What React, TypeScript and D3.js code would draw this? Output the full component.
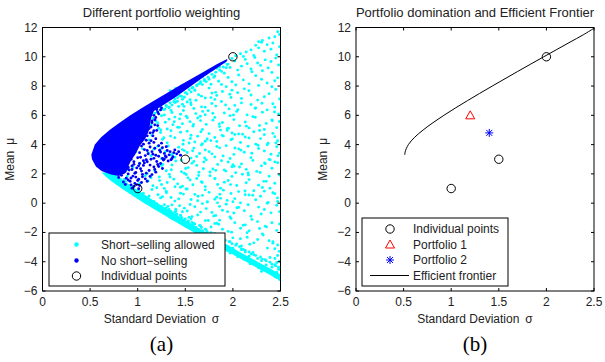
import React from 'react';
import * as d3 from 'd3';

// axis ticks (same for both panels)
const xTicks = [0, 0.5, 1, 1.5, 2, 2.5];
const yTicks = [-6, -4, -2, 0, 2, 4, 6, 8, 10, 12];

// the three assets (sigma, mu)
const individualPoints: [number, number][] = [[1, 1], [1.5, 3], [2, 10]];
const portfolio1: [number, number] = [1.2, 6];
const portfolio2: [number, number] = [1.4, 4.8];

// efficient frontier
const frontier: [number, number][] = [
  [0.513, 3.3], [0.516, 3.5], [0.55, 4.0], [0.616, 4.5], [0.705, 5.0], [0.809, 5.5],
  [0.923, 6.0], [1.044, 6.5], [1.17, 7.0], [1.299, 7.5], [1.431, 8.0], [1.565, 8.5],
  [1.699, 9.0], [1.835, 9.5], [1.972, 10.0], [2.11, 10.5], [2.248, 11.0], [2.387, 11.5], [2.5, 11.95],
];

// short-selling allowed cloud (cyan)
const cyanPoints: [number, number][] = [
  [2.31, 11.12], [2.44, 11.37], [2.47, 11.71], [2.38, 11.28], [2.49, 11.52], [2.27, 11.03],
  [2.08, 10.21], [2.36, 10.83], [2.19, 10.47], [2.46, 10.12], [2.03, 10.07], [2.27, 10.61], [2.42, 10.94], [2.14, 10.33],
  [2.33, 10.38], [2.49, 10.69], [2.22, 10.09], [2.3, 10.99], [2.4, 10.52], [2.11, 10.02], [2.24, 10.78],
  [1.79, 9.14], [2.13, 9.82], [1.94, 9.47], [2.37, 9.23], [2.02, 9.71], [1.86, 9.31], [2.26, 9.58], [2.45, 9.91],
  [1.74, 9.03], [2.09, 9.36], [2.31, 9.05], [1.99, 9.88], [2.19, 9.17], [2.48, 9.44], [1.91, 9.62], [2.4, 9.68],
  [2.05, 9.09], [2.23, 9.95], [1.83, 9.22], [2.15, 9.53], [2.34, 9.79], [1.97, 9.27], [2.29, 9.41],
  [1.52, 8.17], [1.68, 8.63], [2.11, 8.42], [1.47, 8.04], [1.91, 8.88], [2.36, 8.21], [1.59, 8.39], [1.77, 8.12],
  [2.24, 8.71], [2.47, 8.56], [1.63, 8.51], [1.85, 8.33], [2.03, 8.07], [1.72, 8.83], [2.41, 8.93], [1.95, 8.58],
  [1.56, 8.27], [2.17, 8.15], [1.81, 8.69], [2.3, 8.47], [1.66, 8.21], [2.06, 8.76], [1.5, 8.09], [1.99, 8.29],
  [2.44, 8.36], [1.75, 8.46], [2.2, 8.98], [1.62, 8.02], [1.88, 8.11], [2.27, 8.04], [1.7, 8.36],
  [1.26, 7.13], [1.41, 7.58], [1.83, 7.36], [1.34, 7.69], [2.12, 7.81], [1.55, 7.07], [1.47, 7.92], [1.98, 7.22],
  [1.31, 7.28], [2.38, 7.47], [1.64, 7.41], [1.39, 7.11], [1.75, 7.86], [2.26, 7.04], [1.51, 7.53], [1.89, 7.63],
  [1.44, 7.34], [2.45, 7.77], [1.36, 7.49], [1.6, 7.74], [2.05, 7.55], [1.29, 7.02], [1.71, 7.18], [2.19, 7.39],
  [1.49, 7.24], [1.93, 7.96], [1.4, 7.84], [2.33, 7.27], [1.57, 7.87], [1.81, 7.09], [2.49, 7.12], [1.45, 7.66],
  [1.67, 7.31], [2.09, 7.15], [1.33, 7.38], [1.53, 7.97], [1.99, 7.72], [2.41, 7.95], [1.38, 7.6], [1.78, 7.52],
  [1.18, 6.14], [1.33, 6.52], [1.74, 6.31], [1.22, 6.83], [2.02, 6.68], [1.45, 6.07], [1.27, 6.39], [1.88, 6.94],
  [1.56, 6.72], [2.31, 6.21], [1.39, 6.88], [1.21, 6.26], [1.67, 6.58], [2.15, 6.03], [1.3, 6.67], [1.96, 6.44],
  [1.48, 6.33], [2.42, 6.79], [1.25, 6.97], [1.61, 6.12], [1.82, 6.63], [2.24, 6.5], [1.36, 6.19], [1.52, 6.91],
  [2.09, 6.85], [1.17, 6.45], [1.71, 6.04], [2.36, 6.37], [1.43, 6.61], [1.91, 6.16], [2.48, 6.09], [1.28, 6.02],
  [1.59, 6.47], [2.19, 6.74], [1.35, 6.34], [1.78, 6.81], [1.24, 6.58], [2.04, 6.27], [1.47, 6.76], [2.44, 6.55],
  [1.16, 5.79], [1.37, 5.36], [1.79, 5.67], [1.22, 5.12], [2.07, 5.29], [1.51, 5.94], [1.29, 5.53], [1.94, 5.08],
  [1.63, 5.82], [2.35, 5.45], [1.42, 5.19], [1.19, 5.61], [1.72, 5.38], [2.21, 5.91], [1.33, 5.74], [1.86, 5.23],
  [1.55, 5.57], [2.46, 5.16], [1.25, 5.97], [1.68, 5.03], [2.01, 5.71], [2.28, 5.31], [1.39, 5.88], [1.58, 5.26],
  [2.13, 5.54], [1.14, 5.34], [1.81, 5.86], [2.41, 5.69], [1.47, 5.42], [1.97, 5.98], [2.49, 5.58], [1.31, 5.07],
  [1.66, 5.64], [2.17, 5.14], [1.21, 5.48], [1.89, 5.51], [2.33, 5.03], [1.44, 5.76],
  [1.24, 4.83], [1.31, 4.12], [1.39, 4.47], [1.48, 4.29], [1.52, 4.91], [1.56, 4.64], [1.68, 4.06], [1.73, 4.38],
  [1.75, 4.75], [1.83, 4.21], [1.9, 4.58], [1.94, 4.97], [1.98, 4.33], [2.02, 4.69], [2.08, 4.14], [2.13, 4.52],
  [2.22, 4.88], [2.24, 4.03], [2.29, 4.41], [2.42, 4.77], [2.47, 4.26], [1.15, 4.62], [1.35, 4.95], [1.6, 4.18],
  [1.81, 4.49], [2.06, 4.72], [2.37, 4.09], [1.26, 4.36], [1.45, 4.84], [1.63, 4.57], [1.71, 4.23], [1.87, 4.99],
  [2.17, 4.45], [2.33, 4.68], [1.12, 4.31], [1.54, 4.11], [1.99, 4.79], [2.44, 4.54],
  [1.14, 3.24], [1.47, 3.66], [1.78, 3.37], [1.21, 3.88], [2.06, 3.71], [1.56, 3.08], [1.29, 3.51], [1.93, 3.93],
  [1.62, 3.19], [2.33, 3.57], [1.43, 3.82], [1.11, 3.44], [1.71, 3.63], [2.19, 3.11], [1.35, 3.29], [1.86, 3.78],
  [1.52, 3.46], [2.46, 3.86], [1.25, 3.04], [1.67, 3.97], [2.01, 3.33], [2.27, 3.73], [1.39, 3.14], [1.59, 3.76],
  [2.12, 3.48], [1.17, 3.69], [1.81, 3.16], [2.4, 3.34], [1.49, 3.59], [1.97, 3.05], [2.49, 3.42], [1.32, 3.91],
  [1.65, 3.39], [2.16, 3.89], [1.75, 3.52], [2.36, 3.99], [1.05, 3.71], [0.98, 3.52],
  [1.25, 2.57], [1.3, 2.21], [1.4, 2.88], [1.49, 2.04], [1.53, 2.43], [1.57, 2.72], [1.69, 2.35], [1.72, 2.96],
  [1.76, 2.13], [1.84, 2.64], [1.91, 2.27], [1.95, 2.81], [1.99, 2.49], [2.03, 2.08], [2.09, 2.68], [2.14, 2.31],
  [2.21, 2.92], [2.25, 2.17], [2.3, 2.55], [2.41, 2.39], [2.47, 2.76], [1.1, 2.02], [1.36, 2.61], [1.59, 2.85],
  [1.82, 2.24], [2.07, 2.47], [2.38, 2.99], [1.02, 2.73], [1.46, 2.15], [1.62, 2.58], [1.79, 2.33], [1.88, 2.9],
  [2.16, 2.06], [2.34, 2.7], [0.95, 2.44], [1.18, 2.19], [2.0, 2.63], [2.44, 2.82], [0.9, 2.28],
  [1.14, 1.74], [1.47, 1.16], [1.76, 1.87], [0.82, 1.21], [2.04, 1.21], [1.55, 1.58], [1.28, 1.01], [1.91, 1.43],
  [1.62, 1.69], [2.31, 1.07], [1.42, 1.32], [0.89, 1.83], [1.71, 1.13], [2.17, 1.61], [1.34, 1.79], [1.84, 1.28],
  [1.51, 1.96], [2.44, 1.36], [1.23, 1.54], [1.67, 1.47], [1.99, 1.83], [2.27, 1.23], [1.38, 1.64], [1.58, 1.26],
  [2.1, 1.98], [1.16, 1.19], [1.81, 1.66], [2.38, 1.84], [1.45, 1.09], [1.95, 1.55], [2.49, 1.92], [1.31, 1.41],
  [1.64, 1.89], [2.14, 1.39], [1.2, 1.05], [1.87, 1.02], [2.35, 1.49], [1.08, 1.88], [0.78, 1.36], [0.86, 1.62],
  [1.02, 1.34], [1.11, 1.52], [0.95, 1.12], [1.25, 1.28],
  [1.24, 0.36], [1.3, 0.81], [1.39, 0.14], [1.48, 0.62], [1.52, 0.97], [1.56, 0.25], [1.68, 0.53], [1.73, 0.08],
  [1.75, 0.74], [1.83, 0.41], [1.9, 0.89], [1.94, 0.19], [1.98, 0.66], [2.02, 0.31], [2.08, 0.02], [2.13, 0.58],
  [2.22, 0.85], [2.24, 0.23], [2.29, 0.47], [2.42, 0.71], [2.47, 0.12], [1.15, 0.93], [1.35, 0.39], [1.6, 0.6],
  [1.81, 0.27], [2.06, 0.79], [2.37, 0.05], [1.26, 0.44], [1.45, 0.68], [1.63, 0.16], [1.71, 0.91], [1.87, 0.33],
  [2.17, 0.56], [2.33, 0.82], [1.12, 0.49], [0.99, 0.72], [2.0, 0.1], [2.44, 0.64], [1.05, 0.57], [0.92, 0.86],
  [1.33, -0.86], [1.49, -0.34], [1.78, -0.63], [1.36, -0.12], [2.06, -0.29], [1.57, -0.92], [1.29, -0.49], [1.93, -0.07],
  [1.63, -0.81], [2.33, -0.43], [1.44, -0.18], [1.27, -0.67], [1.72, -0.37], [2.19, -0.89], [1.35, -0.71], [1.86, -0.22],
  [1.52, -0.54], [2.46, -0.14], [1.34, -0.96], [1.68, -0.03], [2.01, -0.67], [2.27, -0.27], [1.39, -0.86], [1.6, -0.24],
  [2.12, -0.52], [1.4, -0.41], [1.82, -0.84], [2.4, -0.66], [1.47, -0.59], [1.97, -0.95], [2.49, -0.58], [1.55, -0.09],
  [1.66, -0.61], [2.16, -0.11], [1.31, -0.55], [1.89, -0.48], [2.36, -0.01], [1.18, -0.28],
  [1.39, -1.14], [1.61, -1.66], [1.83, -1.37], [1.68, -1.88], [2.08, -1.71], [1.56, -1.08], [1.48, -1.41], [1.95, -1.93],
  [1.71, -1.19], [2.34, -1.57], [1.64, -1.82], [1.44, -1.23], [1.77, -1.63], [2.2, -1.11], [1.53, -1.29], [1.89, -1.78],
  [1.58, -1.46], [2.46, -1.86], [1.36, -1.04], [1.73, -1.97], [2.02, -1.33], [2.28, -1.73], [1.47, -1.14], [1.66, -1.56],
  [2.13, -1.48], [1.51, -1.61], [1.86, -1.16], [2.41, -1.34], [1.54, -1.52], [1.98, -1.05], [2.49, -1.42], [1.62, -1.91],
  [1.81, -1.39], [2.17, -1.89],
  [1.64, -2.14], [1.82, -2.66], [2.0, -2.37], [1.9, -2.88], [2.22, -2.71], [1.74, -2.08], [1.7, -2.41], [2.09, -2.93],
  [1.87, -2.19], [2.38, -2.57], [1.85, -2.82], [1.67, -2.23], [1.96, -2.63], [2.31, -2.11], [1.76, -2.29], [2.04, -2.78],
  [1.79, -2.46], [2.47, -2.86], [1.61, -2.04], [1.95, -2.97], [2.15, -2.33], [2.42, -2.73], [1.69, -2.14], [1.88, -2.56],
  [2.26, -2.48], [1.78, -2.61],
  [1.91, -3.14], [2.05, -3.66], [2.21, -3.37], [2.16, -3.88], [2.39, -3.71], [2.0, -3.08], [1.97, -3.41], [2.3, -3.93],
  [2.09, -3.19], [2.47, -3.57], [2.11, -3.82], [1.94, -3.23], [2.17, -3.63], [2.44, -3.11], [2.02, -3.29], [2.26, -3.78],
  [2.06, -3.46], [2.49, -3.96],
  [2.18, -4.14], [2.3, -4.66], [2.41, -4.37], [2.44, -4.88], [2.48, -4.51], [2.24, -4.08], [2.27, -4.41], [2.35, -4.22],
  [2.46, -4.72], [2.39, -4.6], [2.46, -5.08], [2.49, -5.22], [2.44, -5.01],
];

// more cyan points spread through the middle of the cloud
const cyanExtraPoints: [number, number][] = [
  [1.285, 6.42], [1.437, 5.18], [1.612, 7.03], [1.768, 4.27], [1.923, 6.71], [2.084, 3.62], [2.236, 5.87], [2.392, 2.96],
  [1.345, 4.58], [1.503, 2.37], [1.657, 5.94], [1.812, 1.68], [1.968, 7.44], [2.127, 0.83], [2.281, 4.96], [2.437, 6.23],
  [1.246, 3.71], [1.392, 1.12], [1.558, 6.86], [1.703, 3.09], [1.857, 5.41], [2.013, 2.52], [2.168, 7.68], [2.325, 1.49],
  [2.474, 3.24], [1.318, -0.22], [1.476, 4.02], [1.634, 0.47], [1.789, 6.14], [1.944, -0.58], [2.102, 4.71], [2.259, -1.26],
  [2.413, 5.63], [1.227, 1.79], [1.384, 5.56], [1.539, -0.97], [1.695, 2.81], [1.851, -1.44], [2.006, 6.02], [2.163, 1.93],
  [2.318, -2.17], [2.468, 0.36], [1.263, 2.64], [1.418, 6.97], [1.577, 3.58], [1.732, 0.09], [1.887, 4.63], [2.043, -0.31],
  [2.198, 3.41], [2.353, -1.62], [1.302, 0.71], [1.458, 2.94], [1.614, -1.73], [1.769, 7.21], [1.926, 2.19], [2.079, -2.43],
  [2.234, 6.48], [2.389, 1.02], [1.365, 3.36], [1.521, 5.83], [1.676, 1.41], [1.831, 3.87], [1.987, -1.98], [2.142, 5.26],
  [2.297, -0.74], [2.452, 4.11], [1.243, 5.01], [1.401, -0.53], [1.553, 4.42], [1.709, 6.56], [1.864, 0.61], [2.021, 3.77],
  [2.177, -2.81], [2.333, 2.74], [2.486, -3.29], [1.332, 1.97], [1.487, 6.61], [1.643, 2.11], [1.798, -0.88], [1.953, 5.12],
  [2.109, -1.51], [2.264, 3.96], [2.421, -2.64], [1.274, 4.47], [1.431, 0.29], [1.586, 5.37], [1.741, -1.18], [1.897, 3.23],
  [2.052, 6.38], [2.208, 0.54], [2.363, -3.07], [1.353, 2.28], [1.508, 0.97], [1.664, 4.88], [1.819, 7.57], [1.975, 1.27],
  [2.131, -3.34], [2.286, 2.09], [2.441, -3.78], [1.213, 0.58], [1.371, 7.27], [1.528, 1.73], [1.683, 6.27], [1.838, 0.02],
  [1.994, 4.39], [2.149, -2.02], [2.305, 6.83], [2.459, -4.07],
];

// extra cyan points packed along both branches of the boundary
const cyanEdgePoints: [number, number][] = [
  [1.3, 6.6], [1.34, 6.85], [1.38, 6.95], [1.42, 7.2], [1.46, 7.3], [1.5, 7.55], [1.54, 7.75], [1.58, 7.9],
  [1.62, 8.05], [1.66, 8.3], [1.7, 8.45], [1.74, 8.6], [1.78, 8.8], [1.82, 8.95], [1.86, 9.1], [1.9, 9.3],
  [1.95, 9.5], [1.33, 6.55], [1.4, 6.9], [1.47, 7.1], [1.52, 7.45], [1.6, 7.7], [1.64, 8.15], [1.72, 8.3],
  [1.8, 8.6], [1.88, 9.0], [1.93, 9.25], [1.36, 6.7], [1.56, 7.6], [1.68, 8.1],
  [0.82, 1.6], [0.88, 1.32], [0.95, 0.97], [0.99, 0.78], [1.04, 0.63], [1.08, 0.41], [1.13, 0.18], [1.2, -0.04],
  [1.25, -0.22], [1.3, -0.33], [1.35, -0.57], [1.41, -0.74], [1.46, -0.97], [1.5, -1.08], [1.57, -1.32], [1.6, -1.43],
  [1.67, -1.66], [1.72, -1.83], [1.77, -2.02], [1.82, -2.18], [1.88, -2.42], [1.92, -2.53], [1.99, -2.77], [2.03, -2.88],
  [2.09, -3.12], [2.13, -3.23], [2.19, -3.47], [2.24, -3.58], [2.31, -3.82], [2.35, -3.93], [2.41, -4.17], [2.45, -4.28],
  [2.49, -4.52], [0.87, 1.49], [0.92, 1.17], [1.01, 0.88], [1.06, 0.66], [1.11, 0.33], [1.17, 0.12], [1.28, -0.11],
  [1.33, -0.43], [1.39, -0.62], [1.45, -0.83], [1.53, -1.22], [1.59, -1.38], [1.65, -1.53], [1.71, -1.77], [1.81, -2.07],
  [1.86, -2.28], [1.9, -2.47], [1.97, -2.63], [2.07, -2.98], [2.11, -3.17], [2.17, -3.33], [2.22, -3.52], [2.29, -3.68],
  [2.34, -3.87], [2.39, -4.03], [2.44, -4.22], [2.48, -4.38],
];

// dense cyan band along the lower branch (outline, sigma/mu)
const cyanBand: [number, number][] = [
  [0.62, 2.1], [0.667, 1.8], [0.724, 1.5], [0.831, 1.0], [0.947, 0.5], [1.069, 0], [1.196, -0.5], [1.326, -1],
  [1.458, -1.5], [1.592, -2], [1.727, -2.5], [1.863, -3], [2.0, -3.5], [2.138, -4], [2.276, -4.5],
  [2.414, -5], [2.498, -5.3], [2.5, -4.88], [2.4, -4.5], [2.26, -4.0], [2.12, -3.5], [1.98, -3.0],
  [1.85, -2.5], [1.72, -2.0], [1.59, -1.5], [1.46, -1.0], [1.34, -0.5], [1.21, 0.0], [1.09, 0.5],
  [0.97, 1.0], [0.86, 1.5], [0.8, 1.8], [0.74, 2.1],
];

// solid part of the no-short-selling region (outline, sigma/mu)
const blueRegion: [number, number][] = [
  [0.513, 3.3], [0.55, 4.0], [0.616, 4.5], [0.705, 5.0], [0.809, 5.5], [0.923, 6.0], [1.044, 6.5],
  [1.17, 7.0], [1.299, 7.5], [1.431, 8.0], [1.565, 8.5], [1.699, 9.0], [1.835, 9.5], [1.94, 9.85],
  [1.94, 9.72], [1.85, 9.3], [1.7, 8.65], [1.55, 7.95], [1.4, 7.25], [1.27, 6.7], [1.17, 6.3],
  [1.14, 5.8], [1.12, 5.0], [1.08, 4.4], [1.02, 3.9], [0.98, 3.4], [0.93, 2.9], [0.9, 2.5],
  [0.88, 2.1], [0.8, 1.85], [0.72, 1.95], [0.66, 2.1], [0.62, 2.2], [0.561, 2.5], [0.52, 3.0],
];

// scattered no-short-selling points outside the solid part
const bluePoints: [number, number][] = [
  [0.82, 3.0], [0.86, 3.2], [0.9, 3.5], [0.88, 2.8], [0.93, 3.0], [0.95, 3.3], [0.97, 3.7], [1.0, 3.1],
  [1.02, 3.45], [1.04, 3.9], [1.06, 2.9], [1.08, 3.25], [1.1, 3.6], [1.12, 4.1], [1.14, 3.0], [1.16, 3.35],
  [1.18, 3.75], [1.2, 2.85], [1.22, 3.2], [1.24, 3.5], [1.26, 3.05], [1.28, 3.4], [1.3, 3.15], [1.33, 3.3],
  [1.36, 3.05], [1.38, 3.45], [1.31, 3.6], [1.27, 2.95], [0.99, 4.2], [1.05, 4.5], [1.09, 4.3], [1.0, 3.95],
  [0.92, 3.85], [0.87, 3.65], [0.84, 2.6], [0.9, 2.45], [0.96, 2.65], [1.01, 2.55], [1.07, 2.75], [1.13, 2.6],
  [0.94, 2.3], [0.98, 2.1], [1.03, 2.35], [0.86, 2.2], [0.9, 2.0], [0.95, 1.85], [0.83, 1.9], [0.88, 1.7],
  [0.92, 1.5], [0.97, 1.35], [1.02, 1.2], [0.96, 1.15], [0.93, 1.25], [1.0, 1.55], [1.05, 1.8], [1.09, 2.05],
  [0.8, 1.75], [0.85, 1.45], [1.15, 1.95], [1.18, 2.3], [1.22, 2.5], [1.1, 1.5],
  [1.15, 5.5], [1.17, 6.0], [1.2, 6.4], [1.14, 5.2], [1.18, 5.7], [1.22, 6.1], [1.13, 4.8], [1.17, 4.95],
  [1.21, 5.3], [1.25, 6.5], [1.16, 4.6], [1.19, 4.4],
  [0.93, 1.72], [0.97, 2.04], [1.01, 1.63], [0.91, 2.27], [1.04, 2.19], [0.99, 2.41], [1.06, 2.58], [0.96, 2.83],
  [1.09, 2.97], [1.11, 3.38], [1.03, 3.14], [1.15, 3.52], [1.07, 3.66], [1.13, 3.84], [1.19, 3.27], [1.23, 3.61],
  [1.26, 3.79], [1.29, 3.23], [1.34, 3.52], [1.37, 3.17], [1.41, 3.37], [1.32, 2.88], [1.24, 2.71], [1.17, 2.47],
  [1.12, 2.23], [1.05, 1.97], [0.98, 1.78], [0.9, 1.58], [0.87, 1.28], [0.94, 1.02], [1.01, 0.98], [0.99, 1.27],
  [1.04, 1.41], [1.08, 1.66], [1.13, 1.83], [1.19, 2.12], [1.26, 2.37], [1.21, 2.64], [1.28, 3.02], [1.35, 2.97],
  [1.17, 3.06], [1.1, 2.83], [1.02, 2.71], [0.94, 2.54], [0.89, 2.36], [0.85, 2.07], [1.14, 4.27], [1.1, 4.6],
  [1.16, 4.82], [1.12, 5.1], [1.18, 5.35], [1.15, 5.62], [1.19, 5.85], [1.21, 6.22], [1.24, 6.37], [1.2, 4.97],
  [1.17, 4.15], [1.22, 3.93], [1.06, 4.03], [1.09, 4.79], [1.45, 3.28], [1.43, 3.51], [1.39, 3.64], [1.3, 3.86],
  [1.25, 4.1],
];

const FONT = 'Liberation Sans, Arial, sans-serif';
const MINUS = '\u2212';
const fmt = (v: number) => (v < 0 ? MINUS + Math.abs(v) : String(v));

const top = 27.5;
const bottom = 291;

function Frame({ x0, x1, title, caption, id, children }: any) {
  const x = d3.scaleLinear().domain([0, 2.5]).range([x0, x1]);
  const y = d3.scaleLinear().domain([-6, 12]).range([bottom, top]);
  const cx = (x0 + x1) / 2;
  return (
    <g>
      <defs>
        <clipPath id={id}>
          <rect x={x0} y={top} width={x1 - x0} height={bottom - top} />
        </clipPath>
      </defs>
      <g clipPath={`url(#${id})`}>{children(x, y)}</g>
      <rect x={x0} y={top} width={x1 - x0} height={bottom - top} fill="none" stroke="#000" strokeWidth={1} />
      {xTicks.map((t) => (
        <g key={'x' + t}>
          <line x1={x(t)} x2={x(t)} y1={bottom} y2={bottom - 3} stroke="#000" />
          <line x1={x(t)} x2={x(t)} y1={top} y2={top + 3} stroke="#000" />
          <text x={x(t)} y={306} textAnchor="middle" fontSize={12} fill="#222" fontFamily={FONT}>{fmt(t)}</text>
        </g>
      ))}
      {yTicks.map((t) => (
        <g key={'y' + t}>
          <line x1={x0} x2={x0 + 3} y1={y(t)} y2={y(t)} stroke="#000" />
          <line x1={x1} x2={x1 - 3} y1={y(t)} y2={y(t)} stroke="#000" />
          <text x={x0 - 5} y={y(t) + 4} textAnchor="end" fontSize={12} fill="#222" fontFamily={FONT}>{fmt(t)}</text>
        </g>
      ))}
      <text x={cx} y={16.5} textAnchor="middle" fontSize={13} fill="#222" fontFamily={FONT}>{title}</text>
      <text x={cx} y={323} textAnchor="middle" fontSize={12} fill="#222" fontFamily={FONT}>
        Standard Deviation{'\u2002'}σ
      </text>
      <text transform={`translate(${x0 - 29},${(top + bottom) / 2}) rotate(-90)`} textAnchor="middle" fontSize={12} fill="#222" fontFamily={FONT}>
        Mean{'\u2002'}μ
      </text>
      <text x={cx} y={351} textAnchor="middle" fontSize={21} fill="#000" fontFamily="Liberation Serif, serif">{caption}</text>
    </g>
  );
}

const Circle = ({ x, y }: any) => <circle cx={x} cy={y} r={4.2} fill="none" stroke="#000" strokeWidth={1} />;
const Triangle = ({ x, y }: any) => (
  <path d={`M${x},${y - 4.5}L${x + 4.5},${y + 3.5}L${x - 4.5},${y + 3.5}Z`} fill="none" stroke="#ff0000" strokeWidth={1} />
);
const Star = ({ x, y }: any) => (
  <g stroke="#0000ff" strokeWidth={1}>
    <line x1={x - 4} x2={x + 4} y1={y} y2={y} />
    <line x1={x} x2={x} y1={y - 4} y2={y + 4} />
    <line x1={x - 3} x2={x + 3} y1={y - 3} y2={y + 3} />
    <line x1={x - 3} x2={x + 3} y1={y + 3} y2={y - 3} />
  </g>
);

export default function App() {
  const allCyan = cyanPoints.concat(cyanExtraPoints, cyanEdgePoints);
  return (
    <svg width={605} height={362} style={{ position: 'absolute', left: 0, top: 0, background: '#fff' }}>
      <rect width={605} height={362} fill="#fff" />
      <Frame x0={42.5} x1={280.5} id="clipA" title="Different portfolio weighting" caption="(a)">
        {(x: any, y: any) => {
          const poly = d3.line<[number, number]>().x((d) => x(d[0])).y((d) => y(d[1]));
          return (
            <g>
              <path d={poly(cyanBand) + 'Z'} fill="#00ffff" />
              {allCyan.map((d, i) => (
                <circle key={'c' + i} cx={x(d[0])} cy={y(d[1])} r={1.45} fill="#00ffff" />
              ))}
              <path d={poly(blueRegion) + 'Z'} fill="#0000ff" />
              {bluePoints.map((d, i) => (
                <circle key={'b' + i} cx={x(d[0])} cy={y(d[1])} r={1.45} fill="#0000ff" />
              ))}
              {individualPoints.map((d, i) => (
                <Circle key={'i' + i} x={x(d[0])} y={y(d[1])} />
              ))}
            </g>
          );
        }}
      </Frame>
      <Frame x0={356} x1={594} id="clipB" title="Portfolio domination and Efficient Frontier" caption="(b)">
        {(x: any, y: any) => {
          const line = d3.line<[number, number]>().x((d) => x(d[0])).y((d) => y(d[1])).curve(d3.curveCatmullRom);
          return (
            <g>
              <path d={line(frontier) || ''} fill="none" stroke="#000" strokeWidth={1} />
              {individualPoints.map((d, i) => (
                <Circle key={'i' + i} x={x(d[0])} y={y(d[1])} />
              ))}
              <Triangle x={x(portfolio1[0])} y={y(portfolio1[1])} />
              <Star x={x(portfolio2[0])} y={y(portfolio2[1])} />
            </g>
          );
        }}
      </Frame>
      {/* legend (a) */}
      <g fontFamily={FONT} fontSize={12} fill="#222">
        <rect x={49} y={233} width={176} height={53} fill="#fff" stroke="#000" />
        <circle cx={76.5} cy={244.5} r={2.2} fill="#00ffff" />
        <text x={101} y={248.5}>Short{MINUS}selling allowed</text>
        <circle cx={76.5} cy={260.5} r={2.2} fill="#0000ff" />
        <text x={101} y={264.5}>No short{MINUS}selling</text>
        <Circle x={76.5} y={276} />
        <text x={101} y={280}>Individual points</text>
      </g>
      {/* legend (b) */}
      <g fontFamily={FONT} fontSize={12} fill="#222">
        <rect x={362} y={218} width={146} height={68} fill="#fff" stroke="#000" />
        <Circle x={390} y={229} />
        <text x={413} y={233}>Individual points</text>
        <Triangle x={390} y={244.5} />
        <text x={413} y={248.5}>Portfolio 1</text>
        <Star x={390} y={260} />
        <text x={413} y={264}>Portfolio 2</text>
        <line x1={370} x2={409} y1={275.5} y2={275.5} stroke="#000" />
        <text x={413} y={279.5}>Efficient frontier</text>
      </g>
    </svg>
  );
}
